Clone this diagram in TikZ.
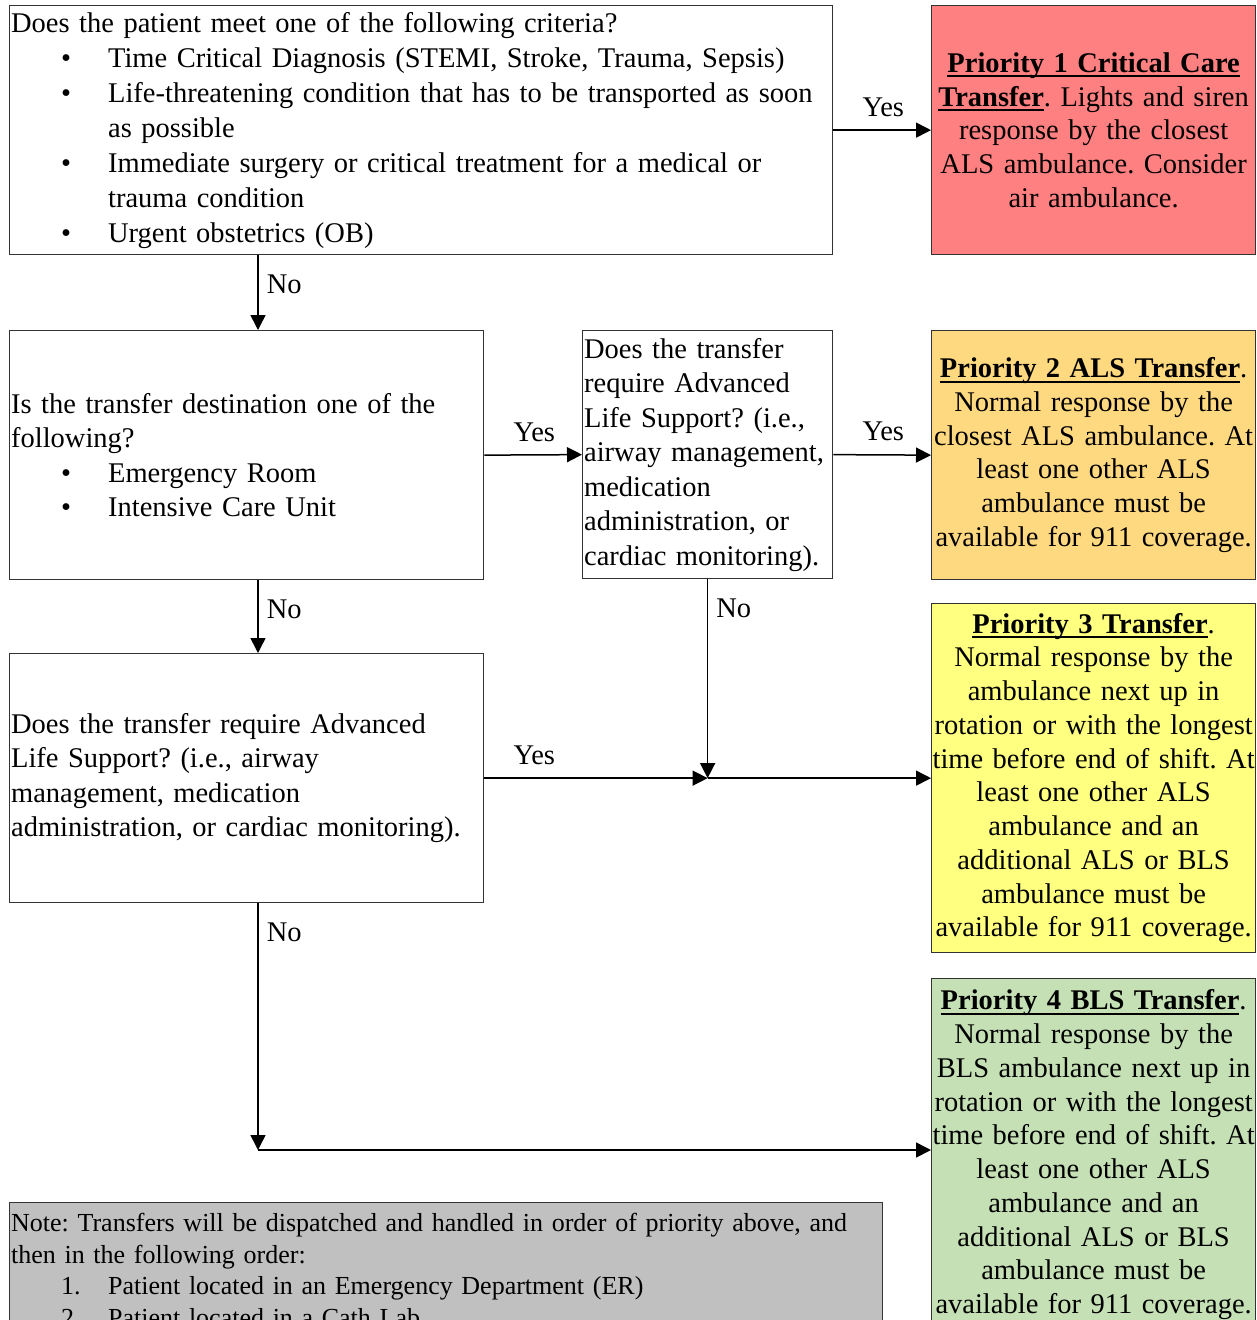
\documentclass[tikz,border=0pt]{standalone}
\usepackage{fontspec}
\setmainfont{Liberation Serif}
\usetikzlibrary{arrows.meta}

\definecolor{p1red}{RGB}{255,128,128}
\definecolor{p2orange}{RGB}{255,217,128}
\definecolor{p3yellow}{RGB}{255,255,128}
\definecolor{p4green}{RGB}{197,224,180}
\definecolor{notegray}{RGB}{192,192,192}

\frenchspacing
\setlength{\parindent}{0pt}
\hyphenpenalty=10000
\exhyphenpenalty=10000
\newcommand{\critem}[2]{\par\noindent\hangindent=38.8pt\hangafter=1\makebox[38.8pt][l]{\hspace*{20pt}#1}#2}
\newcommand{\prtitle}[1]{\leavevmode\setbox0\hbox{\textbf{#1}}\rlap{\rule[-2pt]{\wd0}{0.8pt}}\box0}

\begin{document}
\begin{tikzpicture}[x=0.4pt,y=-0.4pt,font=\fontsize{11.4}{13.8}\selectfont,
	box/.style={rectangle,draw=black!80,line width=0.5pt,anchor=north west,inner xsep=0.6pt,inner ysep=0pt,align=left},
	prio/.style={box,align=center,text width=129.6pt,inner xsep=0pt,font=\fontsize{11.4}{13.5}\selectfont},
	arr/.style={-{Triangle[length=6pt,width=6pt]},line width=0.6pt},
	yes/.style={pos=0,anchor=base,xshift=20pt,yshift=5.6pt,inner sep=0pt},
	no/.style={pos=0,anchor=base west,xshift=3.2pt,yshift=-15.2pt,inner sep=0pt}]
\useasboundingbox (0,0) rectangle (1257,1320);
\clip (0,0) rectangle (1257,1320);

\node [box,text width=328pt,minimum height=99.6pt,font=\fontsize{11.4}{14}\selectfont] (crit) at (9,5) {Does the patient meet one of the following criteria?
	\critem{\textbullet}{Time Critical Diagnosis (STEMI, Stroke, Trauma, Sepsis)}
	\critem{\textbullet}{Life-threatening condition that has to be transported as soon\newline as possible}
	\critem{\textbullet}{Immediate surgery or critical treatment for a medical or\newline trauma condition}
	\critem{\textbullet}{Urgent obstetrics (OB)}};
\node [prio,fill=p1red,minimum height=99.6pt] (prioa) at (931,5) {\prtitle{Priority 1 Critical Care}\\
	\prtitle{Transfer}. Lights and siren\\ response by the closest\\ ALS ambulance. Consider\\ air ambulance.};

\node [box,text width=188.4pt,minimum height=99.6pt] (dest) at (9,330) {Is the transfer destination one of the\\ following?
	\critem{\textbullet}{Emergency Room}
	\critem{\textbullet}{Intensive Care Unit}};
\node [box,text width=98.8pt,minimum height=99.2pt] (alsa) at (582,330) {Does the transfer\\ require Advanced\\ Life Support? (i.e.,\\ airway management,\\ medication\\ administration, or\\ cardiac monitoring).};
\node [prio,fill=p2orange,minimum height=99.6pt] (priob) at (931,330) {\prtitle{Priority 2 ALS Transfer}.\\
	Normal response by the\\ closest ALS ambulance. At\\ least one other ALS\\ ambulance must be\\ available for 911 coverage.};

\node [box,text width=188.4pt,minimum height=99.6pt] (alsb) at (9,653) {Does the transfer require Advanced\\ Life Support? (i.e., airway\\ management, medication\\ administration, or cardiac monitoring).};
\node [prio,fill=p3yellow,minimum height=139.6pt] (prioc) at (931,603) {\prtitle{Priority 3 Transfer}.\\
	Normal response by the\\ ambulance next up in\\ rotation or with the longest\\ time before end of shift. At\\ least one other ALS\\ ambulance and an\\ additional ALS or BLS\\ ambulance must be\\ available for 911 coverage.};

\node [prio,fill=p4green,inner ysep=4.5pt] (priod) at (931,978) {\prtitle{Priority 4 BLS Transfer}.\\
	Normal response by the\\ BLS ambulance next up in\\ rotation or with the longest\\ time before end of shift. At\\ least one other ALS\\ ambulance and an\\ additional ALS or BLS\\ ambulance must be\\ available for 911 coverage.};

\node [box,fill=notegray,text width=348pt,inner ysep=4.4pt,font=\fontsize{10.4}{12.6}\selectfont] (note) at (9,1202) {Note: Transfers will be dispatched and handled in order of priority above, and\\ then in the following order:
	\critem{1.}{Patient located in an Emergency Department (ER)}
	\critem{2.}{Patient located in a Cath Lab}};

% connectors
\coordinate (spine) at (258,0);
\coordinate (j1) at (alsa.south |- alsb.east);
\coordinate (j2) at (258,1150);
\draw[arr] (crit.east) -- (prioa.west) node[yes] {Yes};
\draw[arr] (crit.south -| spine) -- (dest.north -| spine) node[no] {No};
\draw[arr] (dest.east) -- (alsa.west) node[yes] {Yes};
\draw[arr] (alsa.east) -- (priob.west) node[yes] {Yes};
\draw[arr] (dest.south -| spine) -- (alsb.north -| spine) node[no] {No};
\draw[arr] (alsa.south) -- (j1) node[no] {No};
\draw[arr] (alsb.east) -- (j1) node[yes] {Yes};
\draw[arr] (j1) -- (j1 -| prioc.west);
\draw[arr] (alsb.south -| spine) -- (j2) node[no] {No};
\draw[arr] (j2) -- (j2 -| priod.west);
\end{tikzpicture}
\end{document}
